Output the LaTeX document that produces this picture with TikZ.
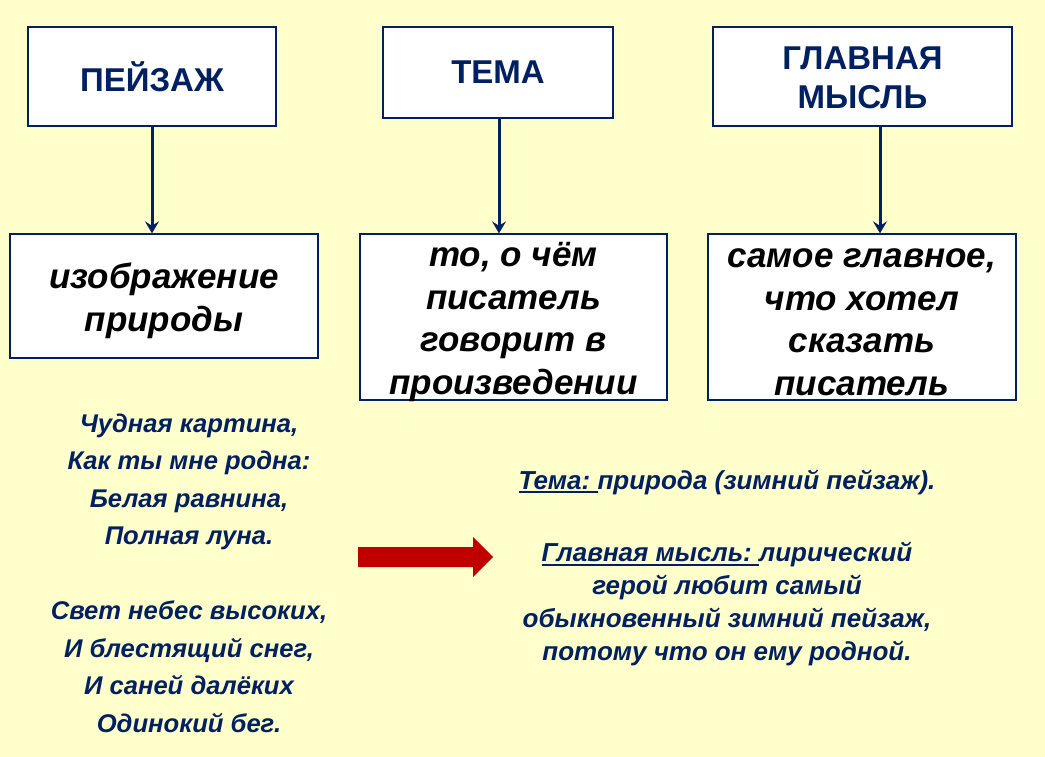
\documentclass[tikz,border=0pt]{standalone}
\usepackage{fontspec}
\usetikzlibrary{arrows.meta}
\setmainfont{Liberation Sans}
\definecolor{bg}{HTML}{FFFFCC}
\definecolor{navy}{HTML}{002060}
\definecolor{redarrow}{HTML}{C00000}
\newcommand\myul[1]{\setbox0\hbox{#1}\rlap{\color{navy}\rule[-4pt]{\wd0}{2.4pt}}\box0}
\begin{document}
\begin{tikzpicture}[x=1pt,y=-1pt,
  boxshape/.style={draw=navy,line width=1.3pt,fill=white,inner sep=0pt},
  toptext/.style={font=\fontsize{33}{39}\selectfont\bfseries,text=navy,align=center,inner sep=0pt},
  deftext/.style={font=\fontsize{35}{42.5}\selectfont\bfseries\itshape,text=black,align=center,inner sep=0pt},
  conn/.style={draw=navy,line width=3pt,-{Stealth[length=12pt,width=14pt,inset=4.5pt]}},
  bodytext/.style={font=\fontsize{25.6}{37.5}\selectfont\bfseries\itshape,text=navy,align=center,inner sep=0pt},
  righttext/.style={font=\fontsize{26}{32.7}\selectfont\bfseries\itshape,text=navy,align=center,inner sep=0pt}
]
\fill[bg] (0,0) rectangle (1045,757);
\useasboundingbox (0,0) rectangle (1045,757);
% top boxes
\node[boxshape,minimum width=248pt,minimum height=99pt] (peyzazh) at (152,76.5) {};
\node[toptext] (peyzazhT) at (152,76.5) {ПЕЙЗАЖ};
\node[boxshape,minimum width=230pt,minimum height=91pt] (tema) at (498,72.5) {};
\node[toptext] (temaT) at (498,72.5) {ТЕМА};
\node[boxshape,minimum width=299pt,minimum height=99pt] (mysl) at (862.5,76.5) {};
\node[toptext] (myslT) at (862.5,77.5) {ГЛАВНАЯ\\МЫСЛЬ};
% definition boxes
\node[boxshape,minimum width=308pt,minimum height=124pt] (d1) at (164,296) {};
\node[deftext] (d1T) at (164,301) {изображение\\природы};
\node[boxshape,minimum width=307pt,minimum height=166pt] (d2) at (513.5,317) {};
\node[deftext] (d2T) at (513.5,322) {то, о чём\\писатель\\говорит в\\произведении};
\node[boxshape,minimum width=308pt,minimum height=166pt] (d3) at (862,317) {};
\node[deftext] (d3T) at (862,322) {самое главное,\\что хотел\\сказать\\писатель};
% connectors
\coordinate (c1) at (152,0);
\coordinate (c2) at (499,0);
\coordinate (c3) at (880,0);
\draw[conn] (peyzazh.south -| c1) -- (d1.north -| c1);
\draw[conn] (tema.south -| c2) -- (d2.north -| c2);
\draw[conn] (mysl.south -| c3) -- (d3.north -| c3);
% poem
\node[bodytext] (poem) at (189,573) {Чудная картина,\\Как ты мне родна:\\Белая равнина,\\Полная луна.\\[37.5pt]Свет небес высоких,\\И блестящий снег,\\И саней далёких\\Одинокий бег.};
% red arrow
\fill[redarrow] (358,547) -- (473,547) -- (473,537) -- (493,557) -- (473,577) -- (473,567) -- (358,567) -- cycle;
% right texts
\node[righttext] (temaTxt) at (727,482) {\myul{Тема:\ }природа (зимний пейзаж).};
\node[righttext] (myslTxt) at (727,604) {\myul{Главная мысль:\ }лирический\\герой любит самый\\обыкновенный зимний пейзаж,\\потому что он ему родной.};
\end{tikzpicture}
\end{document}
